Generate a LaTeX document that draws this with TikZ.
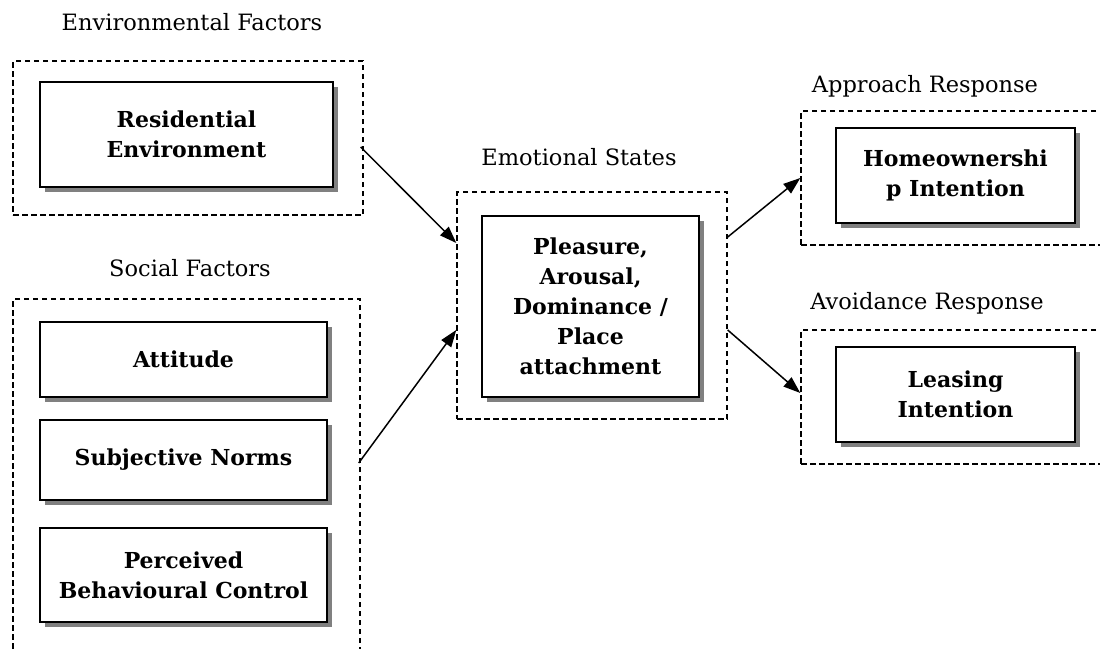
\documentclass[tikz,border=0pt]{standalone}
\usepackage{fontspec}
\setmainfont{DejaVu Serif}
\usetikzlibrary{arrows.meta,shadows,calc}
\tikzset{
  grp/.style={draw, dash pattern=on 5.5pt off 3.5pt, line width=1.4pt, anchor=center, inner sep=0pt},
  fact/.style={draw, fill=white, line width=1.7pt, anchor=center, align=center, inner sep=2pt,
    font=\bfseries\fontsize{22}{30}\selectfont,
    drop shadow={shadow xshift=5pt, shadow yshift=-5pt, fill=black!50, opacity=1}},
  lbl/.style={font=\fontsize{22.5}{27}\selectfont, anchor=center},
  conn/.style={line width=1.5pt, -{Triangle[length=17pt,width=12pt]}}
}
\begin{document}
\begin{tikzpicture}[x=1pt,y=-1pt]
\clip (0,0) rectangle (1100,648);
\fill[white] (0,0) rectangle (1100,648);
% group boxes
\node[grp, minimum width=350pt, minimum height=154pt] (env) at (188,138) {};
\node[grp, minimum width=347pt, minimum height=366pt] (soc) at (186.5,482) {};
\node[grp, minimum width=270pt, minimum height=227pt] (emo) at (592,305.5) {};
\node[grp, minimum width=319pt, minimum height=134pt] (app) at (960.5,178) {};
\node[grp, minimum width=319pt, minimum height=134pt] (avo) at (960.5,397) {};
% labels
\node[lbl] (lenv) at (192,22) {Environmental Factors};
\node[lbl] (lsoc) at (190,268) {Social Factors};
\node[lbl] (lemo) at (579,157) {Emotional States};
\node[lbl] (lapp) at (925,86) {Approach Response};
\node[lbl] (lavo) at (927,303) {Avoidance Response};
% factor boxes
\node[fact, minimum width=293pt, minimum height=105pt] (res) at (186.5,134.5) {Residential\\Environment};
\node[fact, minimum width=287pt, minimum height=75pt] (att) at (183.5,359.5) {Attitude};
\node[fact, minimum width=287pt, minimum height=80pt] (sub) at (183.5,460) {Subjective Norms};
\node[fact, minimum width=287pt, minimum height=94pt] (pbc) at (183.5,575) {Perceived\\Behavioural Control};
\node[fact, minimum width=217pt, minimum height=181pt] (pad) at (590.5,306.5) {Pleasure,\\Arousal,\\Dominance /\\Place\\attachment};
\node[fact, minimum width=239pt, minimum height=95pt] (hom) at (955.5,175.5) {Homeownershi\\p Intention};
\node[fact, minimum width=239pt, minimum height=95pt] (lea) at (955.5,394.5) {Leasing\\Intention};
% connectors
\draw[conn] ($(env.east)+(-3,9)$) -- ($(emo.west)+(0,-62.5)$);
\draw[conn] ($(soc.east)+(-2,-19)$) -- ($(emo.west)+(0,24.5)$);
\draw[conn] ($(emo.east)+(0,-68.5)$) -- (app.west);
\draw[conn] ($(emo.east)+(0,24.5)$) -- ($(avo.west)+(0,-4)$);
\end{tikzpicture}
\end{document}
